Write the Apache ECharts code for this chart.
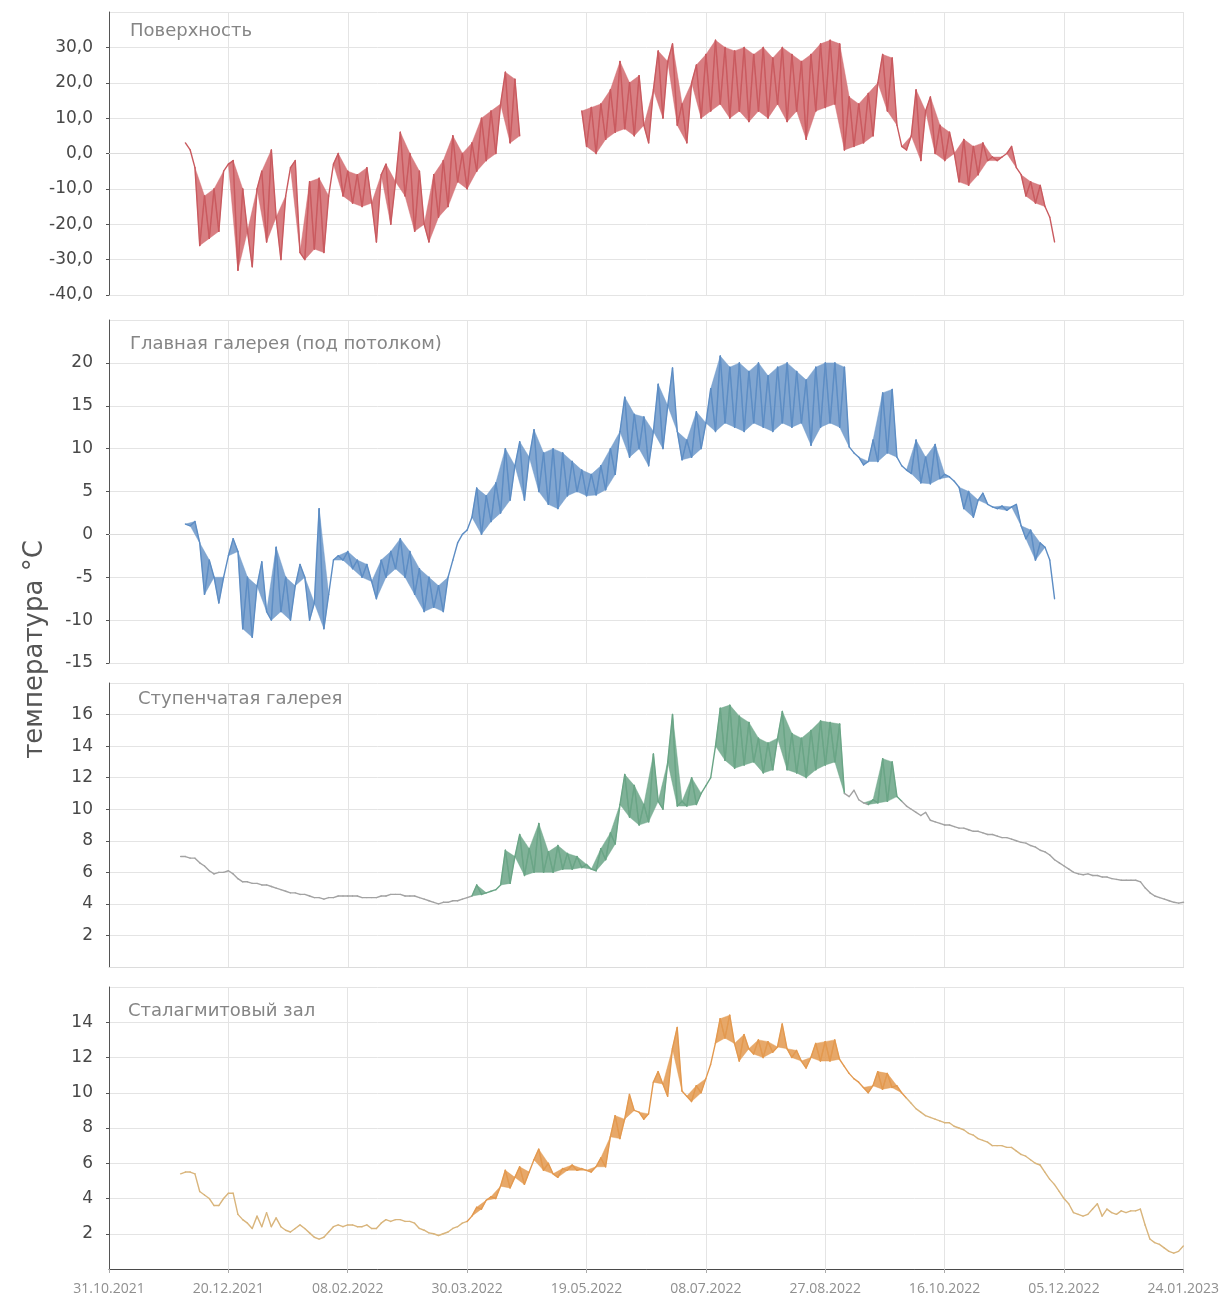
<!DOCTYPE html>
<html>
<head>
<meta charset="utf-8">
<script src="https://cdn.jsdelivr.net/npm/echarts@6/dist/echarts.min.js"></script>
<style>
html,body{margin:0;padding:0;background:#fff;}
#chart{width:1222px;height:1299px;}
</style>
</head>
<body>
<div id="chart"></div>
<script>
// x = days since 31.10.2021; ticks every 50 days
const tickDays = [0, 50, 100, 150, 200, 250, 300, 350, 400, 450];
const tickLabels = ['31.10.2021','20.12.2021','08.02.2022','30.03.2022','19.05.2022','08.07.2022','27.08.2022','16.10.2022','05.12.2022','24.01.2023'];

const panelTitles = ['Поверхность', 'Главная галерея (под потолком)', 'Ступенчатая галерея', 'Сталагмитовый зал'];
const yAxisTitle = 'температура °C';

// Поверхность: start day 32, step 2 days (segment A), gap, segment B starts day 198
const surfaceStartA = 32;
const surfaceA = [
  3, 1, -4, -26, -12, -24, -10, -22, -5, -3,
  -2, -33, -10, -22, -32, -10, -5, -25, 1, -18,
  -30, -12, -4, -2, -28, -30, -8, -27, -7, -28,
  -12, -3, 0, -12, -5, -14, -6, -15, -4, -14,
  -25, -6, -3, -20, -8, 6, -12, 0, -22, -5,
  -20, -25, -6, -18, -2, -15, 5, -8, 0, -10,
  3, -5, 10, -2, 12, 0, 14, 23, 3, 21,
  5
];
const surfaceStartB = 198;
const surfaceB = [
  12, 2, 13, 0, 14, 4, 18, 6, 26, 7,
  20, 5, 22, 8, 3, 18, 29, 10, 26, 31,
  8, 14, 3, 20, 25, 10, 28, 12, 32, 14,
  30, 10, 29, 12, 30, 9, 28, 12, 30, 10,
  27, 14, 30, 9, 28, 12, 26, 4, 28, 12,
  31, 13, 32, 14, 31, 1, 16, 2, 14, 3,
  17, 5, 20, 28, 12, 27, 8, 2, 1, 5,
  18, -2, 12, 16, 0, 8, -2, 6, 0, -8,
  4, -9, 2, -6, 3, -2, -1, -2, -1, 0,
  2, -4, -6, -12, -8, -14, -9, -15, -18, -25
];

// Главная галерея: start day 32, step 2
const mainStart = 32;
const mainGallery = [
  1.2, 1.0, 1.5, -1, -7, -3, -5, -8, -5, -2.5,
  -0.5, -2, -11, -5, -12, -6, -3.2, -9, -10, -1.5,
  -9, -5, -10, -6, -3.5, -5, -10, -8, 3, -11,
  -7, -3, -2.5, -3, -2, -4, -3, -5, -3.5, -5.5,
  -7.5, -3, -5, -2, -4, -0.5, -5, -2, -7, -4,
  -9, -5, -8.5, -6, -9, -5, -3, -1, 0, 0.5,
  2, 5.4, 0, 4.5, 1.5, 6, 2.5, 10, 4, 8,
  10.8, 4, 9, 12.2, 5, 9.5, 3.5, 10, 3, 9.5,
  4.5, 8.5, 5, 7.5, 4.5, 7, 4.6, 8, 5.2, 10,
  7, 12, 16, 9, 14, 10, 13.7, 8, 12, 17.5,
  10, 15, 19.4, 12, 8.7, 11, 9, 14.3, 10, 13,
  17, 12, 20.8, 13, 19.5, 12.5, 20, 12, 19, 13,
  20, 12.5, 18.5, 12, 19.5, 13, 20, 12.5, 19, 13,
  18, 10.4, 19.5, 12.5, 20, 13, 20, 12.5, 19.5, 10.2,
  9.5, 9, 8.1, 8.5, 11, 8.5, 16.5, 9.5, 16.9, 9,
  8, 7.5, 7.1, 11, 6, 9, 5.9, 10.5, 6.5, 7,
  6.7, 6.2, 5.5, 3, 5, 2, 4, 4.8, 3.5, 3.2,
  3, 3.3, 2.8, 3.2, 3.5, 1, -0.5, 0.5, -3, -1,
  -1.5, -3, -7.5
];

// Ступенчатая галерея: start day 30, step 2
const stepStart = 30;
const stepGallery = [
  7.0, 7.0, 6.9, 6.9, 6.6, 6.4, 6.1, 5.9, 6.0, 6.0,
  6.1, 5.9, 5.6, 5.4, 5.4, 5.3, 5.3, 5.2, 5.2, 5.1,
  5.0, 4.9, 4.8, 4.7, 4.7, 4.6, 4.6, 4.5, 4.4, 4.4,
  4.3, 4.4, 4.4, 4.5, 4.5, 4.5, 4.5, 4.5, 4.4, 4.4,
  4.4, 4.4, 4.5, 4.5, 4.6, 4.6, 4.6, 4.5, 4.5, 4.5,
  4.4, 4.3, 4.2, 4.1, 4.0, 4.1, 4.1, 4.2, 4.2, 4.3,
  4.4, 4.5, 5.2, 4.6, 4.7, 4.8, 4.9, 5.2, 7.4, 5.3,
  7.0, 8.4, 5.8, 7.5, 6.0, 9.1, 6.0, 7.3, 6.0, 7.7,
  6.2, 7.2, 6.2, 7.0, 6.3, 6.5, 6.2, 6.1, 7.5, 6.8,
  8.5, 7.8, 10.3, 12.2, 9.5, 11.5, 9.0, 10.3, 9.2, 13.5,
  10.5, 10.0, 13.0, 16.0, 10.2, 10.5, 10.2, 12.0, 10.3, 11.0,
  11.5, 12.0, 14.0, 16.4, 13.1, 16.6, 12.6, 15.9, 12.8, 15.5,
  13.0, 14.5, 12.3, 14.2, 12.5, 14.5, 16.2, 12.5, 14.8, 12.3,
  14.5, 12.0, 15.0, 12.5, 15.6, 12.8, 15.5, 13.0, 15.4, 11.0,
  10.8, 11.2, 10.6, 10.4, 10.3, 10.6, 10.4, 13.2, 10.5, 13.0,
  10.8, 10.5, 10.2, 10.0, 9.8, 9.6, 9.8, 9.3, 9.2, 9.1,
  9.0, 9.0, 8.9, 8.8, 8.8, 8.7, 8.6, 8.6, 8.5, 8.4,
  8.4, 8.3, 8.2, 8.2, 8.1, 8.0, 7.9, 7.85, 7.7, 7.6,
  7.4, 7.3, 7.1, 6.8, 6.6, 6.4, 6.2, 6.0, 5.9, 5.85,
  5.9, 5.8, 5.8, 5.7, 5.7, 5.6, 5.55, 5.5, 5.5, 5.5,
  5.5, 5.4, 5.0, 4.7, 4.5, 4.4, 4.3, 4.2, 4.1, 4.05,
  4.1
];

// Сталагмитовый зал: start day 30, step 2
const stalStart = 30;
const stalagmiteHall = [
  5.4, 5.5, 5.5, 5.4, 4.4, 4.2, 4.0, 3.6, 3.6, 4.0,
  4.3, 4.3, 3.1, 2.8, 2.6, 2.3, 3.0, 2.4, 3.2, 2.4,
  2.9, 2.4, 2.2, 2.1, 2.3, 2.5, 2.3, 2.05, 1.8, 1.7,
  1.8, 2.1, 2.4, 2.5, 2.4, 2.5, 2.5, 2.4, 2.4, 2.5,
  2.3, 2.3, 2.6, 2.8, 2.7, 2.8, 2.8, 2.7, 2.7, 2.6,
  2.3, 2.2, 2.05, 2.0, 1.9, 2.0, 2.1, 2.3, 2.4, 2.6,
  2.7, 3.0, 3.5, 3.4, 3.9, 4.1, 4.0, 4.7, 5.6, 4.6,
  5.2, 5.8, 4.8, 5.5, 6.2, 6.8, 5.6, 6.0, 5.4, 5.2,
  5.7, 5.6, 5.9, 5.6, 5.7, 5.6, 5.5, 5.8, 6.3, 5.8,
  7.5, 8.7, 7.4, 8.5, 9.9, 9.0, 8.9, 8.5, 8.8, 10.6,
  11.2, 10.5, 9.8, 12.5, 13.7, 10.1, 9.8, 9.5, 10.4, 10.0,
  10.8, 11.6, 12.8, 14.2, 13.1, 14.4, 12.8, 11.8, 13.3, 12.5,
  12.2, 13.0, 12.0, 12.9, 12.3, 12.6, 13.9, 12.5, 12.0, 12.4,
  11.8, 11.4, 12.0, 12.8, 11.8, 12.9, 11.8, 13.0, 11.9, 11.5,
  11.1, 10.8, 10.6, 10.3, 10.0, 10.4, 11.2, 10.2, 11.1, 10.3,
  10.4, 10.0, 9.7, 9.4, 9.1, 8.9, 8.7, 8.6, 8.5, 8.4,
  8.3, 8.3, 8.1, 8.0, 7.9, 7.7, 7.6, 7.4, 7.3, 7.2,
  7.0, 7.0, 7.0, 6.9, 6.9, 6.7, 6.5, 6.4, 6.2, 6.0,
  5.9, 5.5, 5.1, 4.8, 4.4, 4.0, 3.7, 3.2, 3.1, 3.0,
  3.1, 3.4, 3.7, 3.0, 3.4, 3.2, 3.1, 3.3, 3.2, 3.3,
  3.3, 3.4, 2.5, 1.7, 1.5, 1.4, 1.2, 1.0, 0.9, 1.0,
  1.3
];

const SAMPLE_STEP = 2;
function build(start, values) {
  return values.map((v, i) => [start + i * SAMPLE_STEP, v]);
}

const surfaceData = build(surfaceStartA, surfaceA)
  .concat([[(surfaceStartA + surfaceA.length * SAMPLE_STEP + surfaceStartB) / 2, null]])
  .concat(build(surfaceStartB, surfaceB));
const mainData = build(mainStart, mainGallery);
const stepData = build(stepStart, stepGallery);
const stalData = build(stalStart, stalagmiteHall);

// fill each turning point of the oscillating record (peak or trough) with its neighbours,
// so the dense sub-daily oscillation appears as a filled band
function bandItems(data, keep) {
  const items = [];
  for (let i = 1; i + 1 < data.length; i++) {
    const a = data[i - 1], b = data[i], c = data[i + 1];
    if (a[1] === null || b[1] === null || c[1] === null) continue;
    if (!keep(b[0])) continue;
    if ((b[1] - a[1]) * (c[1] - b[1]) < 0) items.push([a[0], a[1], b[0], b[1], c[0], c[1]]);
  }
  return items;
}
function segItems(data) {
  const items = [];
  for (let i = 0; i + 1 < data.length; i++) {
    if (data[i][1] !== null && data[i + 1][1] !== null) {
      items.push([data[i][0], data[i][1], data[i + 1][0], data[i + 1][1]]);
    }
  }
  return items;
}

// colour segments (style only) for the two cave series: [upper day limit, colour, filled]
const stepColors = [[152, '#a3a3a3', false], [308, '#6aa586', true], [318, '#a3a3a3', false], [332, '#6aa586', true], [9999, '#a3a3a3', false]];
const stalColors = [[150, '#d9b57c', false], [334, '#e3994f', true], [9999, '#d9b57c', false]];
function segAt(table, x) {
  for (const s of table) if (x < s[0]) return s;
  return table[table.length - 1];
}

const chart = echarts.init(document.getElementById('chart'), null, {renderer: 'canvas'});

const LEFT = 109, RIGHT = 38.5;
const grids = [
  {left: LEFT, right: RIGHT, top: 12, height: 283},
  {left: LEFT, right: RIGHT, top: 320, height: 343},
  {left: LEFT, right: RIGHT, top: 683, height: 284},
  {left: LEFT, right: RIGHT, top: 987, height: 282}
];
const yRanges = [
  {min: -40, max: 40, interval: 10, showMin: true},
  {min: -15, max: 25, interval: 5, showMin: true},
  {min: 0, max: 18, interval: 2, showMin: false},
  {min: 0, max: 16, interval: 2, showMin: false}
];
const titlePos = [
  {left: 130, top: 22},
  {left: 130, top: 335},
  {left: 138, top: 690},
  {left: 128, top: 1002}
];

function fmtDay(v) {
  const idx = tickDays.indexOf(v);
  return idx >= 0 ? tickLabels[idx] : '';
}

const xAxes = grids.map((g, i) => ({
  type: 'value', gridIndex: i, min: 0, max: 450, interval: 50,
  axisLine: {show: true, lineStyle: {color: i === 3 ? '#4a4a4a' : '#dcdcdc', width: 1}},
  axisTick: {show: i === 3, length: 4, lineStyle: {color: '#aaa'}},
  axisLabel: {show: i === 3, formatter: fmtDay, color: '#8f8f8f', fontSize: 14, margin: 13, fontFamily: 'Open Sans'},
  splitLine: {show: true, lineStyle: {color: '#e4e4e4', width: 1}}
}));

const yAxes = yRanges.map((r, i) => ({
  type: 'value', gridIndex: i, min: r.min, max: r.max, interval: r.interval,
  axisLine: {show: true, lineStyle: {color: '#555', width: 1}},
  axisTick: {show: true, length: 3, lineStyle: {color: '#555'}},
  axisLabel: {
    color: '#484848', fontSize: 17, margin: 16, fontFamily: 'DejaVu Sans',
    showMaxLabel: false, showMinLabel: r.showMin,
    formatter: i === 0 ? (v => v.toFixed(1).replace('.', ',')) : (v => String(v))
  },
  splitLine: {show: true, lineStyle: {color: '#e4e4e4', width: 1}}
}));

const panels = [
  {data: surfaceData, line: () => '#c95a5f', band: () => '#d1676c', keep: () => true},
  {data: mainData, line: () => '#5d8dc4', band: () => '#6b97c9', keep: () => true},
  {data: stepData, line: x => segAt(stepColors, x)[1], band: x => segAt(stepColors, x)[1], keep: x => segAt(stepColors, x)[2]},
  {data: stalData, line: x => segAt(stalColors, x)[1], band: x => segAt(stalColors, x)[1], keep: x => segAt(stalColors, x)[2]}
];

const series = [];
panels.forEach((p, k) => {
  series.push({
    type: 'custom', xAxisIndex: k, yAxisIndex: k, silent: true,
    data: bandItems(p.data, p.keep),
    renderItem: function (params, api) {
      const pts = [
        api.coord([api.value(0), api.value(1)]),
        api.coord([api.value(2), api.value(3)]),
        api.coord([api.value(4), api.value(5)])
      ];
      const c = p.band(api.value(2));
      return {type: 'polygon', shape: {points: pts},
        style: {fill: c, stroke: c, lineWidth: 0.5, opacity: 0.85}};
    }
  });
  series.push({
    type: 'custom', xAxisIndex: k, yAxisIndex: k, silent: true,
    data: segItems(p.data),
    renderItem: function (params, api) {
      const a = api.coord([api.value(0), api.value(1)]);
      const b = api.coord([api.value(2), api.value(3)]);
      return {type: 'line', shape: {x1: a[0], y1: a[1], x2: b[0], y2: b[1]},
        style: {stroke: p.line((api.value(0) + api.value(2)) / 2), lineWidth: 1.4, lineCap: 'round'}};
    }
  });
});

const option = {
  backgroundColor: '#ffffff',
  animation: false,
  title: panelTitles.map((t, i) => ({
    text: t, left: titlePos[i].left, top: titlePos[i].top, padding: 0,
    textStyle: {fontSize: 18, fontWeight: 'normal', color: '#858585', fontFamily: 'DejaVu Sans'}
  })),
  grid: grids,
  xAxis: xAxes,
  yAxis: yAxes,
  graphic: [{
    type: 'text', left: 22, top: 'middle', rotation: Math.PI / 2,
    style: {text: yAxisTitle, fontSize: 26, fill: '#555', fontFamily: 'DejaVu Sans'}
  }],
  series: series
};
chart.setOption(option);
</script>
</body>
</html>
